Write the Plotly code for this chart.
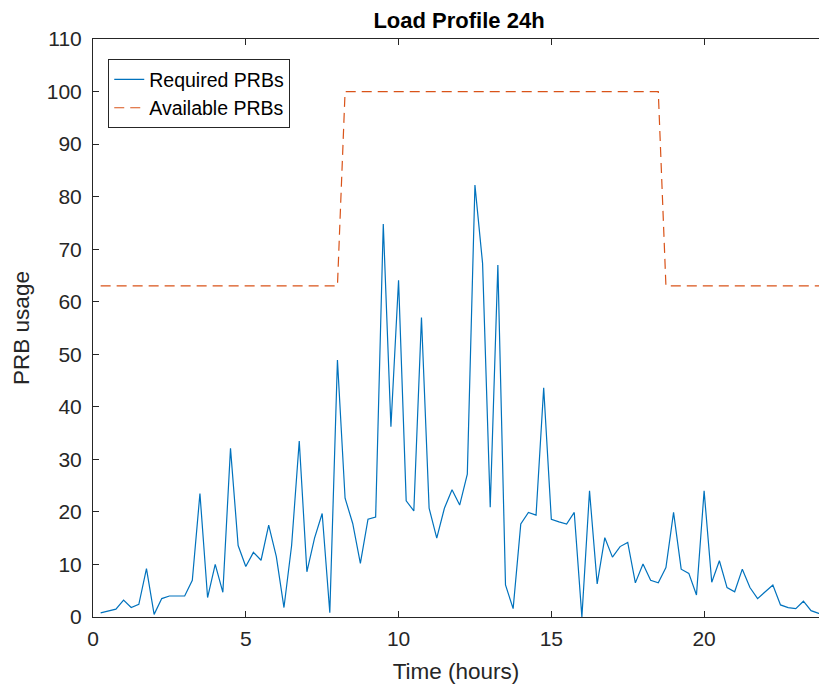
import plotly.graph_objects as go

time_hours = [0.25 * i for i in range(1, 97)]

required_prbs = [
    0.8, 1.1, 1.5, 3.2, 1.8, 2.4, 9.2, 0.5, 3.5, 4.0, 4.0, 4.0,
    7.0, 23.5, 3.7, 10.0, 4.7, 32.1, 13.6, 9.6, 12.3, 10.8, 17.5, 11.5,
    1.8, 13.6, 33.5, 8.6, 15.0, 19.7, 0.8, 48.9, 22.6, 17.8, 10.2, 18.6,
    19.0, 74.8, 36.2, 64.1, 22.1, 20.2, 57.0, 20.7, 15.0, 20.7, 24.2, 21.3,
    27.2, 82.2, 67.3, 20.9, 67.0, 6.1, 1.6, 17.7, 19.9, 19.4, 43.6, 18.6,
    18.1, 17.7, 19.9, 0.0, 24.0, 6.3, 15.1, 11.4, 13.4, 14.2, 6.5, 10.1,
    7.0, 6.5, 9.4, 19.9, 9.1, 8.3, 4.2, 24.0, 6.6, 10.7, 5.6, 4.8,
    9.1, 5.6, 3.5, 4.8, 6.1, 2.3, 1.8, 1.6, 3.0, 1.2, 0.7, 0.5,
]

available_prbs = [63] * 32 + [100] * 42 + [63] * 22

fig = go.Figure()
fig.add_trace(go.Scatter(
    x=time_hours, y=required_prbs, mode="lines", name="Required PRBs",
    line=dict(color="#0072BD", width=1.2),
))
fig.add_trace(go.Scatter(
    x=time_hours, y=available_prbs, mode="lines", name="Available PRBs",
    line=dict(color="#D95319", width=1.2, dash="10px,6px"),
))

axis_color = "#262626"
fig.update_layout(
    width=819, height=690,
    margin=dict(l=93, r=0, t=39, b=73),
    paper_bgcolor="white", plot_bgcolor="white",
    font=dict(family="Liberation Sans, Arial, sans-serif", color=axis_color, size=21),
    title=dict(text="<b>Load Profile 24h</b>", x=459 / 819, xanchor="center",
               y=1 - 20 / 690, yanchor="middle", font=dict(size=22, color="black")),
    showlegend=True,
    legend=dict(x=0.021, y=0.965, xanchor="left", yanchor="top",
                bgcolor="white", bordercolor=axis_color, borderwidth=1,
                font=dict(size=19.5, color="black"), tracegroupgap=0),
    xaxis=dict(
        range=[0, 23.76], tickvals=[0, 5, 10, 15, 20], showgrid=False, zeroline=False,
        showline=True, linecolor=axis_color, linewidth=1, mirror="ticks",
        ticks="inside", ticklen=6, tickcolor=axis_color, ticklabelstandoff=3,
        title=dict(text="Time (hours)", font=dict(size=22.5), standoff=14),
        tickfont=dict(size=21),
    ),
    yaxis=dict(
        range=[0, 110], tickvals=list(range(0, 111, 10)), showgrid=False, zeroline=False,
        showline=True, linecolor=axis_color, linewidth=1,
        ticks="inside", ticklen=6, tickcolor=axis_color, ticklabelstandoff=6,
        title=dict(text="PRB usage", font=dict(size=22.5), standoff=10),
        tickfont=dict(size=21),
    ),
)

fig.write_html("out.html")
